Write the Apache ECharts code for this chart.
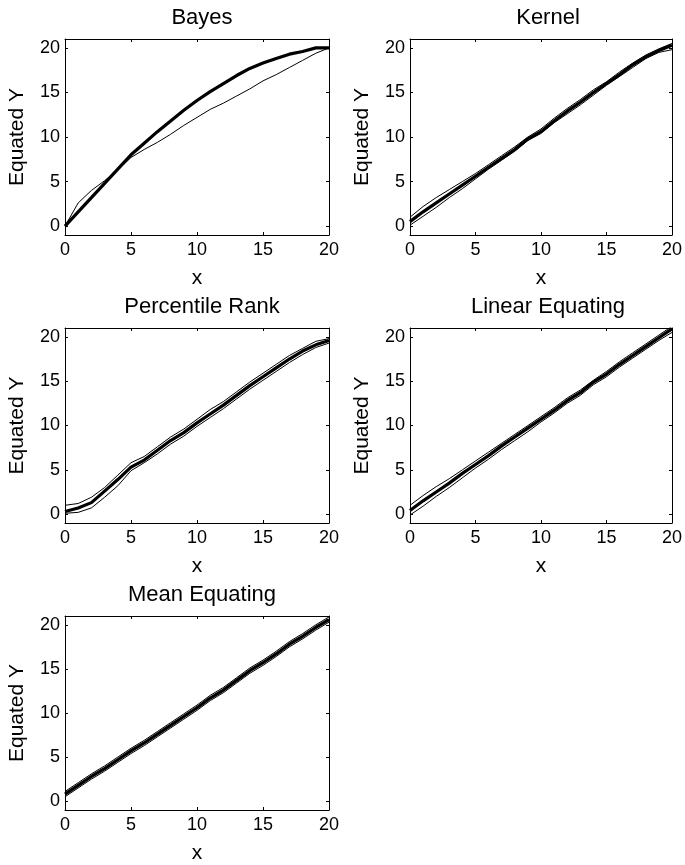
<!DOCTYPE html>
<html><head><meta charset="utf-8">
<script src="https://cdn.jsdelivr.net/npm/echarts@6/dist/echarts.min.js"></script>
<style>html,body{margin:0;padding:0;background:#fff}#c{width:685px;height:865px}</style>
</head><body><div id="c"></div>
<script>
const xs = [0,1,2,3,4,5,6,7,8,9,10,11,12,13,14,15,16,17,18,19,20];
const xTicks = [0,5,10,15,20];
const yTicks = [0,5,10,15,20];
const titles = ['Bayes','Kernel','Percentile Rank','Linear Equating','Mean Equating'];

// Bayes
const bayesThick = [0,1.6,3.2,4.8,6.4,8.0,9.3,10.6,11.8,13.0,14.1,15.1,16.0,16.9,17.7,18.3,18.8,19.3,19.6,20.0,20.0];
const bayesThin  = [0,2.6,4.0,5.1,6.3,7.7,8.6,9.4,10.3,11.3,12.2,13.1,13.8,14.6,15.4,16.3,17.0,17.8,18.6,19.4,20.0];
// Kernel
const kernelThick = [0.5,1.6,2.6,3.6,4.6,5.6,6.6,7.6,8.6,9.8,10.6,11.8,12.9,13.9,15.0,16.0,17.0,18.1,19.0,19.7,20.3];
const kernelUpper = [1.0,2.2,3.2,4.1,5.0,5.9,6.9,7.9,8.9,10.0,10.9,12.1,13.2,14.2,15.3,16.2,17.3,18.3,19.2,19.9,20.5];
const kernelLower = [0.1,1.1,2.1,3.2,4.2,5.3,6.4,7.4,8.4,9.6,10.4,11.6,12.6,13.6,14.7,15.8,16.8,17.8,18.8,19.5,19.8];
// Percentile Rank
const prThick = [0.3,0.7,1.3,2.6,3.9,5.3,6.1,7.2,8.3,9.2,10.3,11.3,12.3,13.4,14.5,15.5,16.5,17.5,18.4,19.1,19.6];
const prUpper = [1.0,1.2,1.9,3.0,4.4,5.8,6.5,7.6,8.7,9.6,10.7,11.8,12.7,13.8,14.9,15.9,16.9,17.9,18.7,19.5,19.8];
const prLower = [0.1,0.2,0.7,1.9,3.2,4.9,5.8,6.8,7.9,8.8,9.9,10.9,11.9,13.0,14.1,15.1,16.1,17.1,18.0,18.8,19.3];
// Linear Equating
const linThick = [0.4,1.5,2.5,3.5,4.6,5.6,6.6,7.7,8.7,9.7,10.7,11.7,12.8,13.7,14.9,15.8,16.9,17.9,18.9,19.9,20.9];
const linUpper = [1.0,2.1,3.1,4.0,5.0,6.0,7.0,8.0,9.0,10.0,11.0,12.0,13.1,14.0,15.1,16.1,17.2,18.2,19.2,20.2,21.2];
const linLower = [-0.1,0.9,2.0,3.0,4.1,5.2,6.2,7.3,8.3,9.3,10.4,11.4,12.5,13.4,14.6,15.5,16.6,17.6,18.6,19.6,20.5];
// Mean Equating
const meanThick = [0.8,1.8,2.8,3.7,4.7,5.7,6.6,7.6,8.6,9.6,10.6,11.7,12.6,13.7,14.8,15.7,16.7,17.8,18.7,19.7,20.6];
const meanUpper = [1.1,2.1,3.1,4.0,5.0,6.0,6.9,7.9,8.9,9.9,10.9,12.0,12.9,14.0,15.1,16.0,17.0,18.1,19.0,20.0,20.9];
const meanLower = [0.5,1.5,2.5,3.4,4.4,5.4,6.3,7.3,8.3,9.3,10.3,11.4,12.3,13.4,14.5,15.4,16.4,17.5,18.4,19.4,20.3];

const panelSeries = [
  [[bayesThin,1],[bayesThick,3.2]],
  [[kernelUpper,1],[kernelLower,1],[kernelThick,3.2]],
  [[prUpper,1],[prLower,1],[prThick,3.2]],
  [[linUpper,1],[linLower,1],[linThick,3.2]],
  [[meanUpper,1],[meanLower,1],[meanThick,3.2]]
];
const boxes = [
  {left:65, top:39, width:264, height:196},
  {left:410, top:39, width:266, height:196},
  {left:65, top:328, width:264, height:195},
  {left:410, top:328, width:266, height:195},
  {left:65, top:616, width:264, height:196}
];

const FONT = '"Liberation Sans", Arial, sans-serif';
const option = {backgroundColor:'#fff', animation:false, title:[], grid:[], xAxis:[], yAxis:[], series:[]};
boxes.forEach((b,i)=>{
  option.grid.push(Object.assign({containLabel:false, show:false}, b));
  option.title.push({text:titles[i], left:b.left+b.width/2, top:b.top-37, textAlign:'center',
    textStyle:{fontFamily:FONT, fontSize:22, fontWeight:'normal', color:'#000'}});
  const line = {show:true, onZero:false, lineStyle:{color:'#000', width:1}};
  const tick = {show:true, inside:true, length:3, lineStyle:{color:'#000', width:1}};
  option.xAxis.push({type:'value', gridIndex:i, min:0, max:20, position:'bottom',
    name:'x', nameLocation:'middle', nameGap:33, nameTextStyle:{fontFamily:FONT, fontSize:21, color:'#000'},
    axisLine:line, axisTick:Object.assign({customValues:xTicks}, tick),
    axisLabel:{customValues:xTicks, fontFamily:FONT, fontSize:18, color:'#000', margin:6},
    splitLine:{show:false}});
  option.xAxis.push({type:'value', gridIndex:i, min:0, max:20, position:'top',
    axisLine:line, axisTick:Object.assign({customValues:xTicks}, tick), axisLabel:{show:false}, splitLine:{show:false}});
  option.yAxis.push({type:'value', gridIndex:i, min:-1, max:21, position:'left',
    name:'Equated Y', nameLocation:'middle', nameGap:37, nameRotate:90,
    nameTextStyle:{fontFamily:FONT, fontSize:21, color:'#000'},
    axisLine:line, axisTick:Object.assign({customValues:yTicks}, tick),
    axisLabel:{customValues:yTicks, fontFamily:FONT, fontSize:18, color:'#000', margin:5},
    splitLine:{show:false}});
  option.yAxis.push({type:'value', gridIndex:i, min:-1, max:21, position:'right',
    axisLine:line, axisTick:Object.assign({customValues:yTicks}, tick), axisLabel:{show:false}, splitLine:{show:false}});
  panelSeries[i].forEach(([arr,w])=>{
    option.series.push({type:'line', xAxisIndex:2*i, yAxisIndex:2*i, showSymbol:false, symbol:'none',
      clip:true, data: xs.map((x,k)=>[x, arr[k]]),
      lineStyle:{color:'#000', width:w}, z: w>1?3:2});
  });
});
const chart = echarts.init(document.getElementById('c'), null, {renderer:'canvas'});
chart.setOption(option);
</script></body></html>
